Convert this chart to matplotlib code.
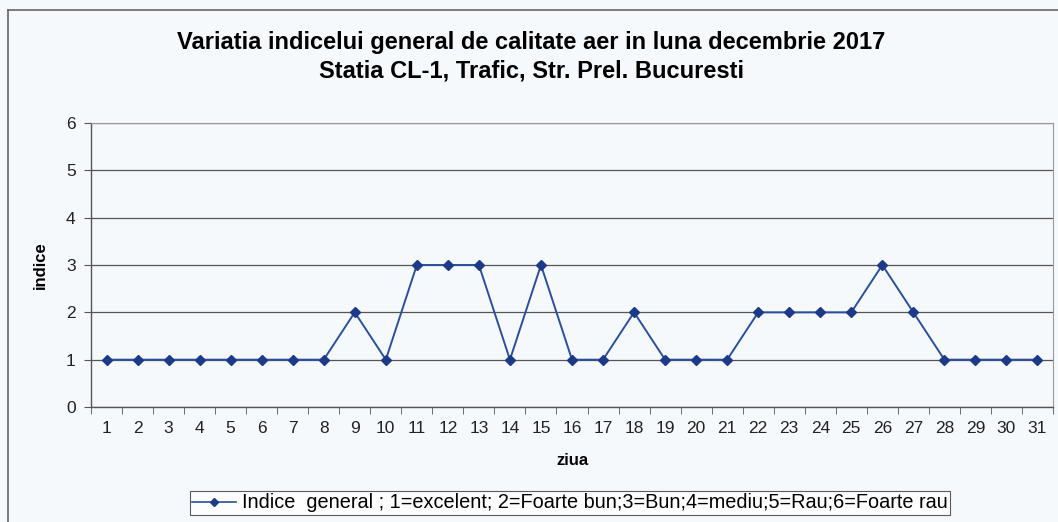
import numpy as np
import matplotlib
matplotlib.use("Agg")
import matplotlib.pyplot as plt
from matplotlib.lines import Line2D

plt.rcParams['font.family'] = ['Liberation Sans', 'DejaVu Sans']

# date
zile = list(range(1, 32))
indice = [1, 1, 1, 1, 1, 1, 1, 1, 2, 1, 3, 3, 3, 1, 3, 1, 1, 2, 1, 1, 1,
          2, 2, 2, 2, 3, 2, 1, 1, 1, 1]
titlu = ("Variatia indicelui general de calitate aer in luna decembrie 2017\n"
         "Statia CL-1, Trafic, Str. Prel. Bucuresti")
eticheta_legenda = ("Indice  general ; 1=excelent; 2=Foarte bun;3=Bun;"
                    "4=mediu;5=Rau;6=Foarte rau")

fundal = '#f6f9fc'
albastru = '#2a4f9e'
marker_c = '#1c3a88'

fig = plt.figure(figsize=(10.58, 5.22), dpi=100, facecolor=fundal)
ax = fig.add_axes([91 / 1058, 1 - 407 / 522, (1053 - 91) / 1058, (407 - 123) / 522])
ax.set_facecolor(fundal)

ax.plot(zile, indice, color=albastru, lw=1.4, marker='D', ms=5.5,
        mfc=marker_c, mec=marker_c, zorder=3)

# axa de categorii, ca in Excel
ax.set_xlim(0.5, 31.5)
ax.set_ylim(0, 6)
ax.set_xticks(zile)
ax.set_xticks(np.arange(0.5, 32, 1), minor=True)
ax.tick_params(axis='x', which='major', length=0, pad=10, labelsize=12.5, colors='#222222')
ax.tick_params(axis='x', which='minor', length=5, direction='out', color='#555555')
ax.set_yticks(range(0, 7))
ax.tick_params(axis='y', length=5, direction='out', pad=6, labelsize=12.5,
               colors='#222222', color='#555555')
ax.grid(axis='y', color='#555555', lw=0.9)

for s in ['top', 'right']:
    ax.spines[s].set_color('#9a9a9a')
    ax.spines[s].set_linewidth(0.8)
for s in ['left', 'bottom']:
    ax.spines[s].set_color('#555555')
    ax.spines[s].set_linewidth(1.0)

ax.set_xlabel('ziua', fontsize=12, fontweight='bold', labelpad=12)
ax.set_ylabel('indice', fontsize=12, fontweight='bold', labelpad=13)

fig.text(0.502, 1 - 57 / 522, titlu, ha='center', va='center', fontsize=17,
         fontweight='bold', linespacing=1.3)

# chenarul exterior (stanga si sus)
fig.add_artist(Line2D([8 / 1058, 8 / 1058], [0, 1 - 10 / 522], transform=fig.transFigure,
                      color='#666666', lw=1.2))
fig.add_artist(Line2D([8 / 1058, 1], [1 - 10 / 522, 1 - 10 / 522], transform=fig.transFigure,
                      color='#666666', lw=1.2))

leg = fig.legend([Line2D([], [], color=albastru, lw=1.2, marker='D', ms=4.5,
                         mfc=marker_c, mec=marker_c)],
                 [eticheta_legenda], loc='center', bbox_to_anchor=(570 / 1058, 1 - 503 / 522),
                 fontsize=14.3, frameon=True, fancybox=False, edgecolor='#333333',
                 handlelength=2.2, handletextpad=0.3, borderpad=0.12)
leg.get_frame().set_facecolor('white')
leg.get_frame().set_linewidth(0.8)

fig.savefig('out.png', dpi=100, facecolor=fundal)
